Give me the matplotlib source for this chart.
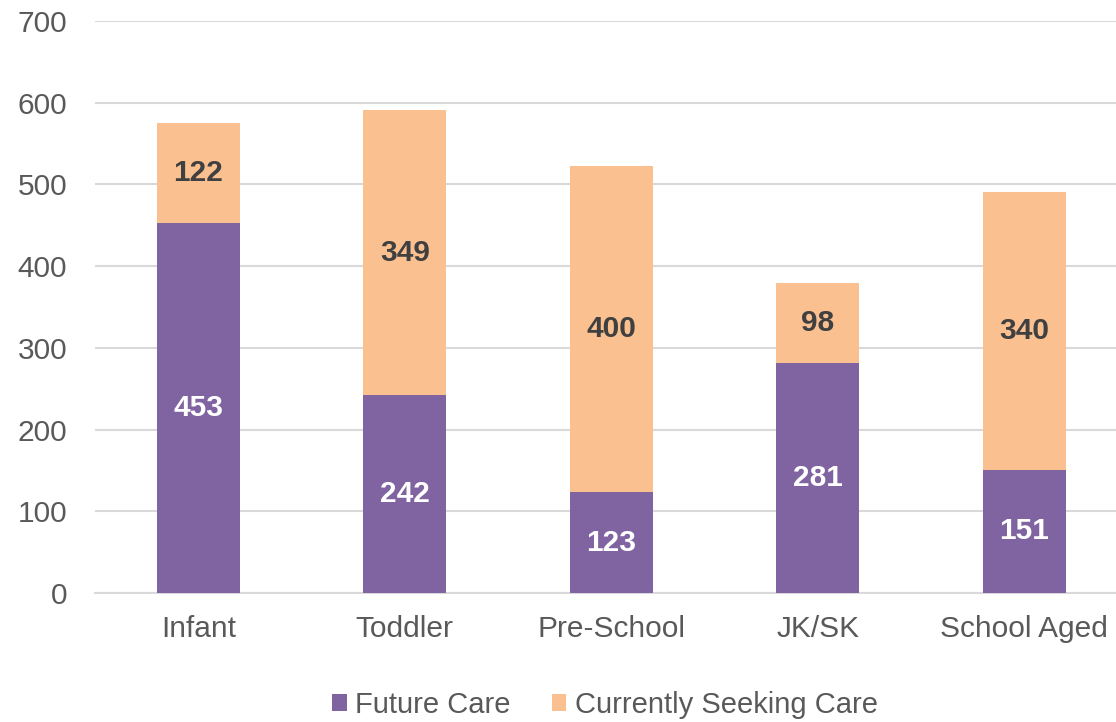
import numpy as np
import matplotlib.pyplot as plt

plt.rcParams['font.family'] = ['Liberation Sans', 'DejaVu Sans']

categories = ["Infant", "Toddler", "Pre-School", "JK/SK", "School Aged"]
future_care = [453, 242, 123, 281, 151]
seeking_care = [122, 349, 400, 98, 340]

purple = "#8064A2"
orange = "#FAC090"
text_gray = "#595959"
grid_gray = "#D9D9D9"

fig = plt.figure(figsize=(11.16, 7.22), dpi=100)
ax = fig.add_axes([95 / 1116, (722 - 593) / 722, (1116 - 95) / 1116, (593 - 21) / 722])

x = np.arange(len(categories))
width = 0.40

b1 = ax.bar(x, future_care, width, color=purple, label="Future Care", zorder=3)
b2 = ax.bar(x, seeking_care, width, bottom=future_care, color=orange,
            label="Currently Seeking Care", zorder=3)

for i in range(len(categories)):
    ax.text(x[i], future_care[i] / 2, str(future_care[i]), ha="center", va="center",
            color="white", fontsize=21.5, fontweight="bold", zorder=4)
    ax.text(x[i], future_care[i] + seeking_care[i] / 2, str(seeking_care[i]),
            ha="center", va="center", color="#404040", fontsize=21.5,
            fontweight="bold", zorder=4)

ax.set_xlim(-0.5, -0.5 + (1116 - 95) / 206.5)
ax.set_ylim(0, 700)
ax.set_yticks(range(0, 701, 100))
ax.set_xticks(x)
ax.set_xticklabels(categories)
ax.tick_params(axis="both", length=0, labelsize=21.5, colors=text_gray)
ax.tick_params(axis="y", pad=20)
ax.tick_params(axis="x", pad=16)

ax.yaxis.grid(True, color=grid_gray, linewidth=1.5, zorder=0)
for s in ["top", "right", "left"]:
    ax.spines[s].set_visible(False)
ax.spines["bottom"].set_color(grid_gray)
ax.spines["bottom"].set_linewidth(1.5)

fig.legend(handles=[b1, b2], loc="center", bbox_to_anchor=(605 / 1116, 1 - 705 / 722),
           ncol=2, frameon=False, fontsize=21, labelcolor=text_gray,
           handlelength=0.5, handleheight=0.5, handletextpad=0.3, columnspacing=1.4)

fig.savefig("out.png", dpi=100)
